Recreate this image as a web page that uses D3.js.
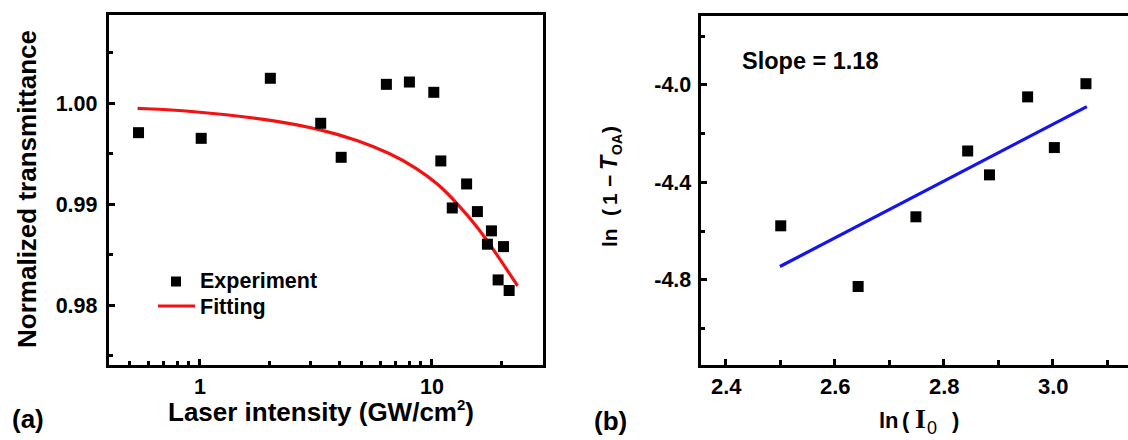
<!DOCTYPE html>
<html><head><meta charset="utf-8">
<script src="https://cdn.jsdelivr.net/npm/d3@7"></script>
<style>
body{margin:0;background:#fff;}
svg{display:block;font-family:"Liberation Sans",Arial,sans-serif;font-weight:bold;}
</style></head>
<body><svg id="chart" width="1128" height="440" viewBox="0 0 1128 440"></svg>
<script>
// ---- Panel (a) data ----
const expIntensity = [0.546, 1.017, 2.02, 3.33, 4.08, 6.39, 8.03, 10.23, 10.97, 12.29, 14.17, 15.77, 18.13, 17.42, 20.43, 19.37, 21.61];
const expTransmit  = [0.99709, 0.99653, 1.00248, 0.99802, 0.99465, 1.00188, 1.00211, 1.00109, 0.99429, 0.98963, 0.99201, 0.98927, 0.98736, 0.98604, 0.9858, 0.9825, 0.98145];
const fitIntensity = [0.541, 0.905, 2.01, 3.42, 4.77, 6.64, 8.66, 10.6, 12.9, 15.77, 19.2, 23.5];
const fitTransmit  = [0.9995, 0.99927, 0.99842, 0.99736, 0.99637, 0.99505, 0.99356, 0.99208, 0.9901, 0.98778, 0.98498, 0.98191];
const aYTicks = [0.98, 0.99, 1.00];
const aYMinor = [0.975, 0.985, 0.995, 1.005];
const aXTicks = [1, 10];
const aXMinor = [0.5, 0.6, 0.7, 0.8, 0.9, 2, 3, 4, 5, 6, 7, 8, 9, 20];

// ---- Panel (b) data ----
const lnI0 = [2.501, 2.643, 2.749, 2.844, 2.884, 2.954, 3.003, 3.061];
const lnT  = [-4.578, -4.827, -4.541, -4.271, -4.369, -4.049, -4.257, -3.995];
const lineX = [2.4995, 3.0626];
const lineY = [-4.745, -4.089];
const bXTicks = [2.4, 2.6, 2.8, 3.0];
const bXMinor = [2.5, 2.7, 2.9, 3.1];
const bYTicks = [-4.0, -4.4, -4.8];
const bYMinor = [-3.8, -4.2, -4.6, -5.0];

const svg = d3.select("#chart");
const FONT = "'Liberation Sans',Arial,sans-serif";

function styleAxis(g, fs){
  g.select(".domain").remove();
  g.selectAll(".tick line").remove();
  g.selectAll(".tick text").attr("fill","#000").style("font-size",fs+"px").style("font-weight","bold")
   .style("font-family",FONT);
}
// inward tick marks (pixel-aligned bars placed by the scale)
function xTicks(scale, vals, B, len, w){
  svg.append("g").selectAll("rect").data(vals).join("rect")
    .attr("x",d=>Math.round(scale(d)-w/2)).attr("y",Math.round(B-len)).attr("width",w).attr("height",len).attr("fill","#000");
}
function yTicks(scale, vals, L, len, w){
  svg.append("g").selectAll("rect").data(vals).join("rect")
    .attr("x",Math.round(L)).attr("y",d=>Math.round(scale(d)-w/2)).attr("width",len).attr("height",w).attr("fill","#000");
}
function frame(L,R,T,B,w){
  const g = svg.append("g");
  const l=Math.round(L-w/2), t=Math.round(T-w/2), r=Math.round(R-w/2), b=Math.round(B-w/2);
  g.append("rect").attr("x",l).attr("y",t).attr("width",r-l+w).attr("height",w).attr("fill","#000");
  g.append("rect").attr("x",l).attr("y",b).attr("width",r-l+w).attr("height",w).attr("fill","#000");
  g.append("rect").attr("x",l).attr("y",t).attr("width",w).attr("height",b-t+w).attr("fill","#000");
  g.append("rect").attr("x",r).attr("y",t).attr("width",w).attr("height",b-t+w).attr("fill","#000");
}

// ================= Panel (a) =================
{
  const L=107, R=544.3, T=13.5, B=366.7;
  // 1 at 199.5 px, 10 at 431.5 px
  const x = d3.scaleLog().domain([Math.pow(10,(L-199.5)/232), Math.pow(10,(R-199.5)/232)]).range([L, R]);
  const y = d3.scaleLinear().domain([0.9739, 1.0089]).range([B, T]);

  svg.append("g").attr("transform",`translate(0,${B})`)
    .call(d3.axisBottom(x).tickValues(aXTicks).tickSize(0).tickPadding(12).tickFormat(d3.format("d")))
    .call(g=>styleAxis(g,21.5));
  svg.append("g").attr("transform",`translate(${L},0)`)
    .call(d3.axisLeft(y).tickValues(aYTicks).tickSize(0).tickPadding(9.5).tickFormat(d3.format(".2f")))
    .call(g=>styleAxis(g,21.5));
  xTicks(x, aXMinor, B, 6, 3);
  xTicks(x, aXTicks, B, 8, 3);
  yTicks(y, aYMinor, L, 6, 3);
  yTicks(y, aYTicks, L, 8, 3);

  svg.append("path")
    .datum(fitIntensity.map((v,i)=>[v, fitTransmit[i]]))
    .attr("fill","none").attr("stroke","#f21212").attr("stroke-width",3.2)
    .attr("d", d3.line().x(d=>x(d[0])).y(d=>y(d[1])).curve(d3.curveBasis));

  const s=11;
  svg.append("g").selectAll("rect").data(expIntensity.map((v,i)=>[v, expTransmit[i]])).join("rect")
    .attr("x",d=>x(d[0])-s/2).attr("y",d=>y(d[1])-s/2).attr("width",s).attr("height",s).attr("fill","#000");

  frame(L,R,T,B,3);

  svg.append("rect").attr("x",171).attr("y",276.5).attr("width",10).attr("height",10).attr("fill","#000");
  svg.append("text").attr("x",200).attr("y",288).style("font-size","21.5px").text("Experiment");
  svg.append("rect").attr("x",158).attr("y",304.5).attr("width",37).attr("height",3).attr("fill","#f21212");
  svg.append("text").attr("x",200).attr("y",313.5).style("font-size","21.5px").text("Fitting");

  const xt = svg.append("text").attr("x",321).attr("y",421).attr("text-anchor","middle").style("font-size","26px");
  xt.append("tspan").text("Laser intensity (GW/cm");
  xt.append("tspan").attr("dy",-11).style("font-size","15px").text("2");
  xt.append("tspan").attr("dy",11).text(")");

  svg.append("text").attr("transform","translate(36,189) rotate(-90)").attr("text-anchor","middle")
    .style("font-size","26px").text("Normalized transmittance");

  svg.append("text").attr("x",12).attr("y",428).style("font-size","26px").text("(a)");
}

// ================= Panel (b) =================
{
  const L=699.3, T=14, B=366.7;
  const x0 = 725.7, perUnit = 545; // 2.4 at 725.7 px
  const R = 1140;
  const x = d3.scaleLinear().domain([2.4 + (L-x0)/perUnit, 2.4 + (R-x0)/perUnit]).range([L, R]);
  const y = d3.scaleLinear().domain([-5.156, -3.709]).range([B, T]);

  svg.append("g").attr("transform",`translate(0,${B})`)
    .call(d3.axisBottom(x).tickValues(bXTicks).tickSize(0).tickPadding(12).tickFormat(d3.format(".1f")))
    .call(g=>styleAxis(g,22));
  svg.append("g").attr("transform",`translate(${L},0)`)
    .call(d3.axisLeft(y).tickValues(bYTicks).tickSize(0).tickPadding(8).tickFormat(d=>d3.format(".1f")(d).replace("\u2212","-")))
    .call(g=>styleAxis(g,21.5));
  xTicks(x, bXMinor, B, 7, 3);
  xTicks(x, bXTicks, B, 8, 3);
  yTicks(y, bYMinor, L, 6, 3);
  yTicks(y, bYTicks, L, 8, 3);

  svg.append("path")
    .datum(lineX.map((v,i)=>[v, lineY[i]]))
    .attr("fill","none").attr("stroke","#1414f0").attr("stroke-width",3.2)
    .attr("d", d3.line().x(d=>x(d[0])).y(d=>y(d[1])));

  const s=11;
  svg.append("g").selectAll("rect").data(lnI0.map((v,i)=>[v, lnT[i]])).join("rect")
    .attr("x",d=>x(d[0])-s/2).attr("y",d=>y(d[1])-s/2).attr("width",s).attr("height",s).attr("fill","#000");

  frame(L,R,T,B,3);

  svg.append("text").attr("x",742).attr("y",69).style("font-size","23.5px").text("Slope = 1.18");

  // y title (rotated); x positions are distances along the text
  const yt = svg.append("text").attr("transform","translate(617,247) rotate(-90)").style("font-size","21px");
  yt.append("tspan").attr("x",0).text("ln");
  yt.append("tspan").attr("x",31).text("(");
  yt.append("tspan").attr("x",42).text("1");
  yt.append("tspan").attr("x",60).text("\u2212");
  yt.append("tspan").attr("x",77).style("font-style","italic").style("font-size","23px").text("T");
  yt.append("tspan").attr("x",92).attr("dy",5).style("font-size","14px").text("OA");
  yt.append("tspan").attr("x",114).attr("dy",-5).text(")");

  const xt = svg.append("text").attr("y",428).style("font-size","22px");
  xt.append("tspan").attr("x",879).text("ln");
  xt.append("tspan").attr("x",902).text("(");
  xt.append("tspan").attr("x",915).style("font-family","'Liberation Serif','Times New Roman',serif").style("font-size","28px").text("I");
  xt.append("tspan").attr("x",927).attr("dy",6).style("font-size","18px").style("font-weight","normal").text("0");
  xt.append("tspan").attr("x",952).attr("dy",-6).text(")");

  svg.append("text").attr("x",594).attr("y",430).style("font-size","26px").text("(b)");
}
</script></body></html>
